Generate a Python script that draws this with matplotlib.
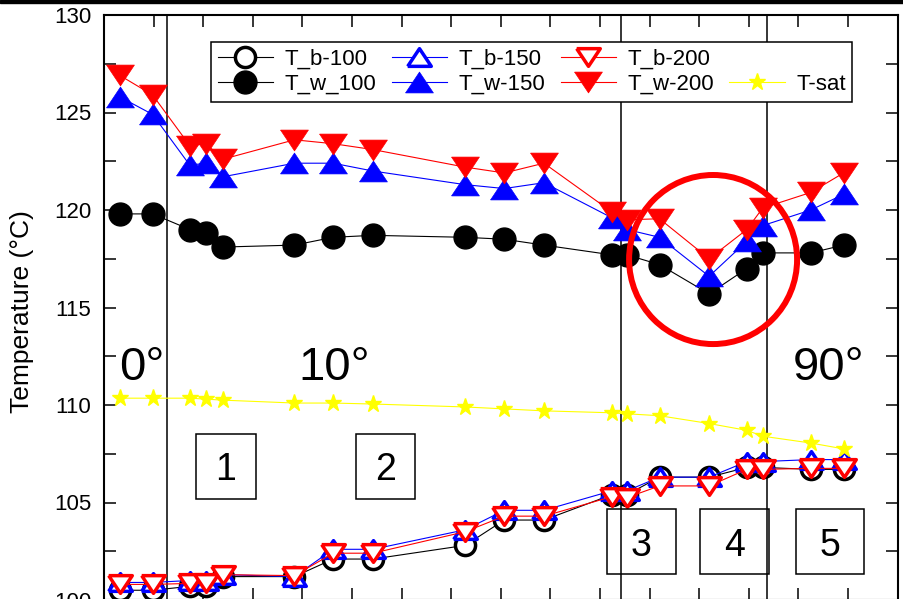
import matplotlib
matplotlib.use('Agg')
import matplotlib.pyplot as plt
from matplotlib.lines import Line2D
from matplotlib.patches import Ellipse, Rectangle

plt.rcParams['font.family'] = ['Liberation Sans', 'DejaVu Sans']

# measurement positions along the tube (one tick = one unit)
pos = [0.32, 0.98, 1.73, 2.06, 2.39, 3.84, 4.62, 5.42, 7.28, 8.07, 8.87,
       10.24, 10.54, 11.20, 12.20, 12.96, 13.28, 14.25, 14.91]

# bulk temperatures
t_b_100 = [100.5, 100.5, 100.7, 100.7, 101.2, 101.2, 102.1, 102.1, 102.8, 104.1,
           104.1, 105.4, 105.4, 106.3, 106.3, 106.8, 106.8, 106.7, 106.7]
t_b_150 = [100.9, 100.9, 101.0, 101.0, 101.3, 101.2, 102.6, 102.6, 103.6, 104.6,
           104.6, 105.6, 105.6, 106.3, 106.3, 107.1, 107.1, 107.2, 107.2]
t_b_200 = [100.8, 100.8, 100.85, 100.85, 101.3, 101.25, 102.4, 102.4, 103.5, 104.3,
           104.3, 105.3, 105.25, 105.85, 105.85, 106.7, 106.7, 106.75, 106.75]

# wall temperatures
t_w_100 = [119.8, 119.8, 119.0, 118.8, 118.1, 118.2, 118.6, 118.7, 118.6, 118.5,
           118.2, 117.7, 117.7, 117.2, 115.7, 117.0, 117.8, 117.8, 118.2]
t_w_150 = [125.8, 124.9, 122.3, 122.4, 121.7, 122.4, 122.4, 122.0, 121.3, 121.1,
           121.4, 119.6, 119.0, 118.6, 116.6, 118.4, 119.2, 120.0, 120.8]
t_w_200 = [126.9, 125.9, 123.3, 123.4, 122.6, 123.6, 123.4, 123.1, 122.2, 121.9,
           122.4, 119.9, 119.5, 119.55, 117.5, 119.0, 120.1, 120.9, 121.9]

# saturation temperature
t_sat = [110.35, 110.35, 110.35, 110.3, 110.25, 110.1, 110.1, 110.05, 109.9, 109.8,
         109.7, 109.6, 109.55, 109.45, 109.05, 108.7, 108.4, 108.05, 107.75]

section_edges = [1.27, 10.42, 13.37]
angle_labels = ['0°', '10°', '90°']
region_labels = ['1', '2', '3', '4', '5']

tri_up = [(-1, -0.75), (1, -0.75), (0, 0.75), (-1, -0.75)]
tri_dn = [(-1, 0.75), (1, 0.75), (0, -0.75), (-1, 0.75)]

fig = plt.figure(figsize=(9.04, 5.99), dpi=100)
ax = fig.add_axes([104 / 904, -1 / 599, 793.6 / 904, 585 / 599])

lw = 0.8
h_b100, = ax.plot(pos, t_b_100, color='black', lw=lw, marker='o', ms=14.5,
                  mfc='white', mec='black', mew=2.5, zorder=3)
h_w100, = ax.plot(pos, t_w_100, color='black', lw=lw, marker='o', ms=16.5,
                  mfc='black', mec='black', zorder=3)
h_b150, = ax.plot(pos, t_b_150, color='blue', lw=lw, marker=tri_up, ms=17,
                  mfc='white', mec='blue', mew=2.5, zorder=4)
h_w150, = ax.plot(pos, t_w_150, color='blue', lw=lw, marker=tri_up, ms=20,
                  mfc='blue', mec='blue', mew=0.5, zorder=4)
h_b200, = ax.plot(pos, t_b_200, color='red', lw=lw, marker=tri_dn, ms=17,
                  mfc='white', mec='red', mew=2.5, zorder=5)
h_w200, = ax.plot(pos, t_w_200, color='red', lw=lw, marker=tri_dn, ms=20,
                  mfc='red', mec='red', mew=0.5, zorder=5)
h_sat, = ax.plot(pos, t_sat, color='yellow', lw=lw, marker='*', ms=12.5,
                 mfc='yellow', mec='yellow', zorder=6)

for xe in section_edges:
    ax.axvline(xe, color='black', lw=1.1, zorder=2)

# inclination angle labels
for x, txt in zip([0.77, 4.65, 14.6], angle_labels):
    ax.text(x, 111.28, txt, fontsize=34, ha='center', va='baseline', zorder=7)

# boxed region numbers: (x0, x1, y0, y1)
boxes = [(1.855, 3.065, 105.18, 108.51), (5.08, 6.27, 105.18, 108.51),
         (10.14, 11.53, 101.33, 104.67), (12.02, 13.41, 101.33, 104.67),
         (13.95, 15.32, 101.33, 104.67)]
for (x0, x1, y0, y1), txt in zip(boxes, region_labels):
    ax.add_patch(Rectangle((x0, y0), x1 - x0, y1 - y0, fill=False,
                           ec='black', lw=1.1, zorder=7))
    ax.text((x0 + x1) / 2, y0 + 0.95, txt, fontsize=27, ha='center',
            va='baseline', zorder=7)

# highlight of the temperature dip
ax.add_patch(Ellipse((12.28, 117.46), 3.387, 8.67, fill=False, ec='red',
                     lw=4.3, zorder=8))

ax.set_xlim(0, 16)
ax.set_ylim(100, 130)
ax.set_xticks(range(0, 17))
ax.set_yticks(range(100, 131, 5))
ax.set_yticks([102.5 + 5 * i for i in range(6)], minor=True)
ax.tick_params(which='both', direction='in', top=True, right=True,
               length=8.5, width=1.1, labelsize=16, pad=9)
ax.tick_params(axis='x', labelbottom=False)
for sp in ax.spines.values():
    sp.set_linewidth(1.5)

fig.text(22 / 904, 1 - 312 / 599, 'Temperature (°C)', rotation=90,
         ha='center', va='center', fontsize=19)

blank = Line2D([], [], linestyle='none', marker='none')
leg = ax.legend([h_b100, h_w100, h_b150, h_w150, h_b200, h_w200, blank, h_sat],
                ['T_b-100', 'T_w_100', 'T_b-150', 'T_w-150', 'T_b-200', 'T_w-200', '', 'T-sat'],
                ncol=4, loc='upper left', bbox_to_anchor=(0.1348, 0.9538),
                borderaxespad=0, fontsize=16, handlelength=2.5, handletextpad=0.5,
                columnspacing=0.7, labelspacing=0.2, borderpad=0.3,
                fancybox=False, framealpha=1, numpoints=1)
leg.get_frame().set_edgecolor('black')
leg.get_frame().set_linewidth(1.1)
leg.set_zorder(9)

# dark strip along the top edge
fig.patches.append(Rectangle((0, 1 - 3 / 599), 1, 3 / 599, transform=fig.transFigure,
                             color='black', zorder=10))

fig.savefig('out.png', dpi=100)
